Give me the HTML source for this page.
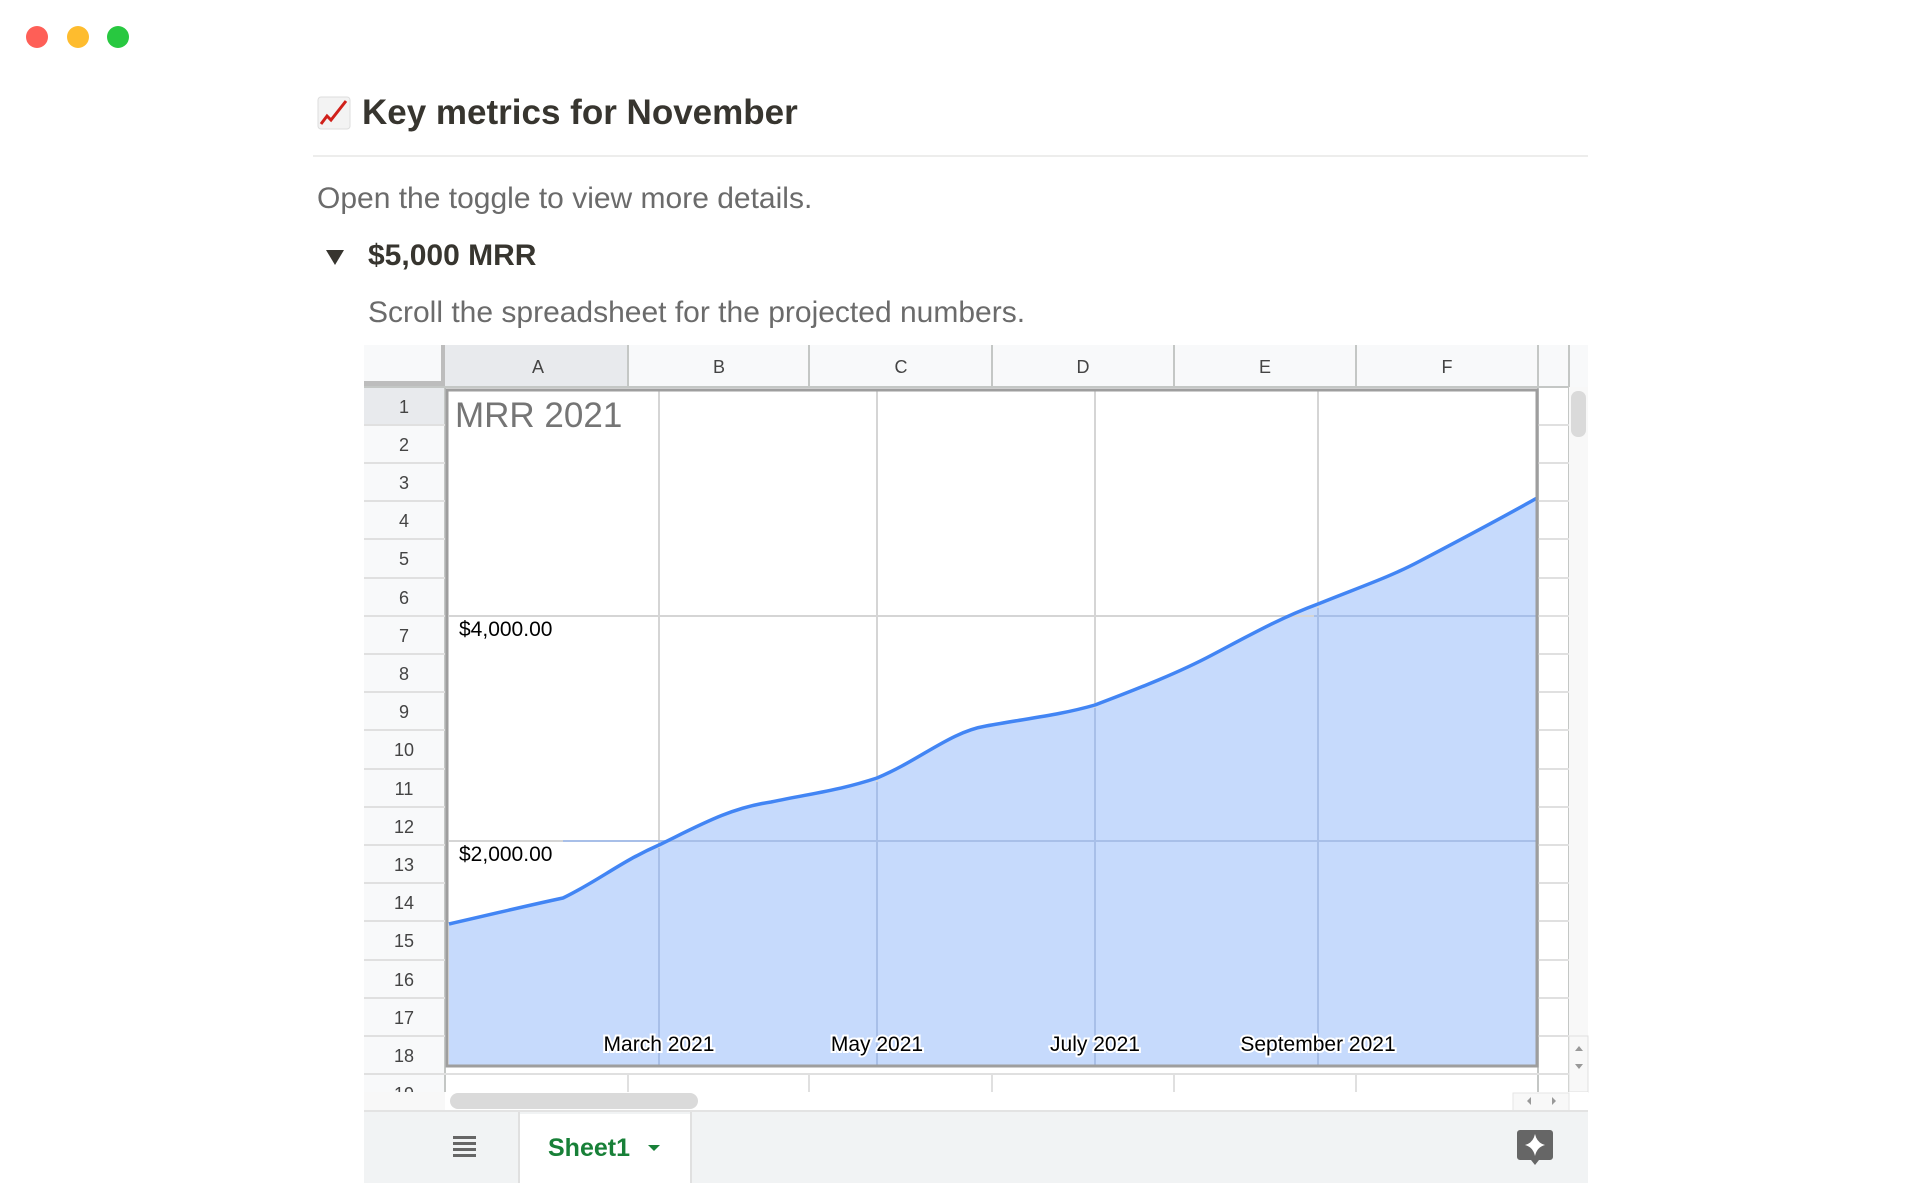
<!DOCTYPE html>
<html><head><meta charset="utf-8"><style>
html,body{margin:0;padding:0;background:#fff;width:1920px;height:1200px;overflow:hidden;font-family:"Liberation Sans",Arial,sans-serif}
.a{position:absolute;white-space:nowrap}
</style></head><body>
<div class="a" style="left:26px;top:26px;width:22px;height:22px;border-radius:50%;background:#fe5f57"></div>
<div class="a" style="left:67px;top:26px;width:22px;height:22px;border-radius:50%;background:#febc2e"></div>
<div class="a" style="left:107px;top:26px;width:22px;height:22px;border-radius:50%;background:#28c840"></div>

<svg class="a" style="left:317px;top:96px" width="34" height="34" viewBox="0 0 34 34"><rect x="1" y="1" width="32" height="32" rx="3" fill="#f3f3f3" stroke="#ddd"/><polyline points="4,28 10,20 14,24 29,5" fill="none" stroke="#d0201a" stroke-width="3"/></svg>
<div class="a" style="left:362px;top:93px;font-size:35px;font-weight:bold;color:#37352f">Key metrics for November</div>
<div class="a" style="left:313px;top:155px;width:1275px;height:2px;background:#ededec"></div>
<div class="a" style="left:317px;top:182px;font-size:30px;color:#6b6b6b">Open the toggle to view more details.</div>
<div class="a" style="left:326px;top:250px;width:0;height:0;border-left:9px solid transparent;border-right:9px solid transparent;border-top:15px solid #37352f"></div>
<div class="a" style="left:368px;top:239px;font-size:30px;font-weight:bold;color:#37352f">$5,000 MRR</div>
<div class="a" style="left:368px;top:296px;font-size:30px;color:#6b6b6b">Scroll the spreadsheet for the projected numbers.</div>

<svg class="a" style="left:0;top:0" width="1920" height="1200">
<rect x="364" y="345" width="1224" height="766" fill="#fff"/>
<rect x="364" y="345" width="1224" height="42" fill="#f8f9fa"/>
<rect x="364" y="387" width="81" height="724" fill="#f8f9fa"/>
<rect x="445" y="345" width="183" height="42" fill="#e8eaed"/>
<rect x="364" y="387" width="81" height="38" fill="#e8eaed"/>
<rect x="364" y="381" width="81" height="6" fill="#bdbdbd"/>
<rect x="441" y="345" width="4" height="42" fill="#bdbdbd"/>
<g stroke="#c4c7c5" stroke-width="2">
<line x1="628" y1="345" x2="628" y2="387"/><line x1="809" y1="345" x2="809" y2="387"/><line x1="992" y1="345" x2="992" y2="387"/><line x1="1174" y1="345" x2="1174" y2="387"/><line x1="1356" y1="345" x2="1356" y2="387"/><line x1="1538" y1="345" x2="1538" y2="1111"/><line x1="1569" y1="345" x2="1569" y2="1111"/>
<line x1="364" y1="387" x2="1569" y2="387"/>
<line x1="445" y1="387" x2="445" y2="1111"/>
</g>
<g stroke="#e0e0e0" stroke-width="2">
<line x1="364" y1="425" x2="445" y2="425"/><line x1="364" y1="463" x2="445" y2="463"/><line x1="364" y1="501" x2="445" y2="501"/><line x1="364" y1="539" x2="445" y2="539"/><line x1="364" y1="578" x2="445" y2="578"/><line x1="364" y1="616" x2="445" y2="616"/><line x1="364" y1="654" x2="445" y2="654"/><line x1="364" y1="692" x2="445" y2="692"/><line x1="364" y1="730" x2="445" y2="730"/><line x1="364" y1="769" x2="445" y2="769"/><line x1="364" y1="807" x2="445" y2="807"/><line x1="364" y1="845" x2="445" y2="845"/><line x1="364" y1="883" x2="445" y2="883"/><line x1="364" y1="921" x2="445" y2="921"/><line x1="364" y1="960" x2="445" y2="960"/><line x1="364" y1="998" x2="445" y2="998"/><line x1="364" y1="1036" x2="445" y2="1036"/><line x1="364" y1="1074" x2="1569" y2="1074"/>
<line x1="1538" y1="425" x2="1569" y2="425"/><line x1="1538" y1="463" x2="1569" y2="463"/><line x1="1538" y1="501" x2="1569" y2="501"/><line x1="1538" y1="539" x2="1569" y2="539"/><line x1="1538" y1="578" x2="1569" y2="578"/><line x1="1538" y1="616" x2="1569" y2="616"/><line x1="1538" y1="654" x2="1569" y2="654"/><line x1="1538" y1="692" x2="1569" y2="692"/><line x1="1538" y1="730" x2="1569" y2="730"/><line x1="1538" y1="769" x2="1569" y2="769"/><line x1="1538" y1="807" x2="1569" y2="807"/><line x1="1538" y1="845" x2="1569" y2="845"/><line x1="1538" y1="883" x2="1569" y2="883"/><line x1="1538" y1="921" x2="1569" y2="921"/><line x1="1538" y1="960" x2="1569" y2="960"/><line x1="1538" y1="998" x2="1569" y2="998"/><line x1="1538" y1="1036" x2="1569" y2="1036"/>
<line x1="628" y1="1074" x2="628" y2="1092"/><line x1="809" y1="1074" x2="809" y2="1092"/><line x1="992" y1="1074" x2="992" y2="1092"/><line x1="1174" y1="1074" x2="1174" y2="1092"/><line x1="1356" y1="1074" x2="1356" y2="1092"/>
</g>
<g font-size="18" fill="#444" text-anchor="middle">
<text x="538" y="373">A</text><text x="719" y="373">B</text><text x="901" y="373">C</text><text x="1083" y="373">D</text><text x="1265" y="373">E</text><text x="1447" y="373">F</text>
</g>
<g font-size="18" fill="#444" text-anchor="middle">
<text x="404" y="413">1</text><text x="404" y="451">2</text><text x="404" y="489">3</text><text x="404" y="527">4</text><text x="404" y="565">5</text><text x="404" y="604">6</text><text x="404" y="642">7</text><text x="404" y="680">8</text><text x="404" y="718">9</text><text x="404" y="756">10</text><text x="404" y="795">11</text><text x="404" y="833">12</text><text x="404" y="871">13</text><text x="404" y="909">14</text><text x="404" y="947">15</text><text x="404" y="986">16</text><text x="404" y="1024">17</text><text x="404" y="1062">18</text><text x="404" y="1100">19</text>
</g>
<rect x="447" y="390" width="1090" height="676" fill="#fff" stroke="#9e9e9e" stroke-width="3"/>
<path d="M449,924 C510,910 530,905 563,898 C600,880 620,862 659,845 C700,825 730,808 771,802 C820,792 840,790 877,778 C920,760 950,732 986,726 C1030,718 1060,715 1095,705 C1140,688 1180,672 1212,655 C1250,635 1280,618 1318,604 C1360,587 1390,577 1420,561 C1460,540 1500,519 1537,498 L1537,1066 L449,1066 Z" fill="#c6dafc"/>
<g stroke="#d5d5d5" stroke-width="2">
<line x1="659" y1="391" x2="659" y2="1065"/><line x1="877" y1="391" x2="877" y2="1065"/><line x1="1095" y1="391" x2="1095" y2="1065"/><line x1="1318" y1="391" x2="1318" y2="1065"/>
<line x1="449" y1="616" x2="1536" y2="616"/><line x1="449" y1="841" x2="1536" y2="841"/>
</g>
<g stroke="#a8bfe8" stroke-width="2">
<line x1="659" y1="848" x2="659" y2="1065"/><line x1="877" y1="782" x2="877" y2="1065"/><line x1="1095" y1="708" x2="1095" y2="1065"/><line x1="1318" y1="608" x2="1318" y2="1065"/>
<line x1="563" y1="841" x2="1536" y2="841"/><line x1="1314" y1="616" x2="1536" y2="616"/>
</g>
<path d="M449,924 C510,910 530,905 563,898 C600,880 620,862 659,845 C700,825 730,808 771,802 C820,792 840,790 877,778 C920,760 950,732 986,726 C1030,718 1060,715 1095,705 C1140,688 1180,672 1212,655 C1250,635 1280,618 1318,604 C1360,587 1390,577 1420,561 C1460,540 1500,519 1537,498" fill="none" stroke="#4285f4" stroke-width="3.5"/>
<rect x="447" y="390" width="1090" height="676" fill="none" stroke="#9e9e9e" stroke-width="3"/>
<text x="455" y="427" font-size="35" fill="#757575">MRR 2021</text>
<text x="459" y="636" font-size="21" fill="#000">$4,000.00</text>
<text x="459" y="861" font-size="21" fill="#000">$2,000.00</text>
<g font-size="21" fill="#000" text-anchor="middle" stroke="#fff" stroke-width="4" paint-order="stroke">
<text x="659" y="1051">March 2021</text><text x="877" y="1051">May 2021</text><text x="1095" y="1051">July 2021</text><text x="1318" y="1051">September 2021</text>
</g>
<rect x="1569" y="387" width="19" height="724" fill="#f8f8f8"/>
<rect x="1571" y="391" width="15" height="46" rx="7" fill="#dadada"/>
<rect x="1569" y="1036" width="19" height="56" fill="#f8f8f8" stroke="#e0e0e0"/>
<path d="M1575,1051 l4,-5 l4,5z M1575,1064 l4,5 l4,-5z" fill="#999"/>
<rect x="445" y="1092" width="1143" height="19" fill="#fff"/>
<rect x="450" y="1093" width="248" height="16" rx="8" fill="#dadada"/>
<rect x="1513" y="1093" width="56" height="18" fill="#f8f8f8" stroke="#e6e6e6"/>
<path d="M1527,1101 l4,-4 v8z M1556,1101 l-4,-4 v8z" fill="#999"/>
<rect x="364" y="1092" width="81" height="19" fill="#f8f8f8"/>
<rect x="364" y="1111" width="1224" height="72" fill="#f1f3f4"/>
<line x1="364" y1="1111" x2="1588" y2="1111" stroke="#e3e3e3" stroke-width="2"/>
<rect x="520" y="1114" width="170" height="69" fill="#fff"/>
<line x1="519" y1="1112" x2="519" y2="1183" stroke="#e0e0e0" stroke-width="2"/><line x1="691" y1="1112" x2="691" y2="1183" stroke="#e0e0e0" stroke-width="2"/>
<g fill="#666"><rect x="453" y="1136" width="23" height="3"/><rect x="453" y="1142" width="23" height="3"/><rect x="453" y="1148" width="23" height="3"/><rect x="453" y="1154" width="23" height="3"/></g>
<text x="548" y="1156" font-size="25" font-weight="bold" fill="#188038">Sheet1</text>
<path d="M648,1145 l12,0 l-6,6z" fill="#188038"/>
<path d="M1520,1130 h30 a3,3 0 0 1 3,3 v24 a3,3 0 0 1 -3,3 h-11 l-4,5 l-4,-5 h-11 a3,3 0 0 1 -3,-3 v-24 a3,3 0 0 1 3,-3z" fill="#666"/>
<path d="M1535,1134 q2,9 10,11 q-8,2 -10,11 q-2,-9 -10,-11 q8,-2 10,-11z" fill="#fff"/>
</svg>
</body></html>
